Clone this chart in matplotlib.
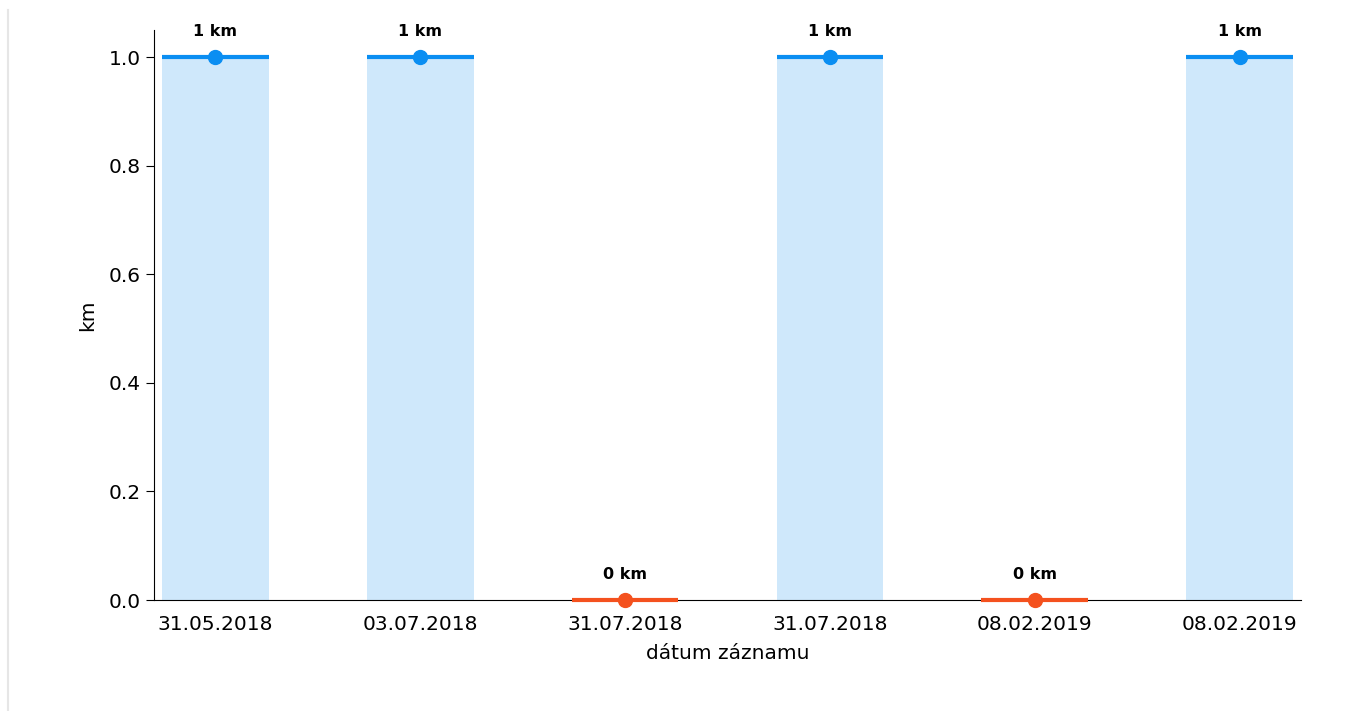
import matplotlib
matplotlib.use("Agg")
import matplotlib.pyplot as plt
from matplotlib.lines import Line2D

dates = ["31.05.2018", "03.07.2018", "31.07.2018", "31.07.2018", "08.02.2019", "08.02.2019"]
values = [1, 1, 0, 1, 0, 1]
value_labels = ["1 km", "1 km", "0 km", "1 km", "0 km", "1 km"]

blue = "#0a8ef2"
fill = "#cfe8fb"
orange = "#f4511e"

fig = plt.figure(figsize=(13.63, 7.11), dpi=100)
ax = fig.add_axes([154/1363, 1 - 600/711, (1301-154)/1363, (600-30)/711])

x = list(range(len(values)))
w = 0.52
for xi, v, lab in zip(x, values, value_labels):
    col = blue if v > 0 else orange
    if v > 0:
        ax.bar(xi, v, width=w, color=fill, zorder=1)
    ax.plot([xi - w/2, xi + w/2], [v, v], color=col, lw=3, zorder=3, clip_on=False, solid_capstyle="butt")
    ax.plot([xi], [v], marker="o", ms=10, color=col, zorder=4, clip_on=False)
    ax.annotate(lab, (xi, v), xytext=(0, 13), textcoords="offset points",
                ha="center", va="bottom", fontsize=11.5, fontweight="bold")

ax.set_xlim(-0.3, len(values) - 0.7)
ax.set_ylim(0, 1.05)
ax.set_xticks(x)
ax.set_xticklabels(dates)
ax.tick_params(axis="x", length=0, labelsize=14.5, pad=11)
ax.tick_params(axis="y", labelsize=14.5, length=6)
ax.set_yticks([0, 0.2, 0.4, 0.6, 0.8, 1.0])
ax.set_ylabel("km", fontsize=14.5, labelpad=8)
ax.set_xlabel("dátum záznamu", fontsize=14.5, labelpad=7)
ax.spines["top"].set_visible(False)
ax.spines["right"].set_visible(False)
ax.spines["bottom"].set_zorder(2)

fig.add_artist(Line2D([8/1363, 8/1363], [1 - 10/711, 0], color="#e6e6e6", lw=1.5, transform=fig.transFigure))

fig.savefig("out.png", dpi=100)
